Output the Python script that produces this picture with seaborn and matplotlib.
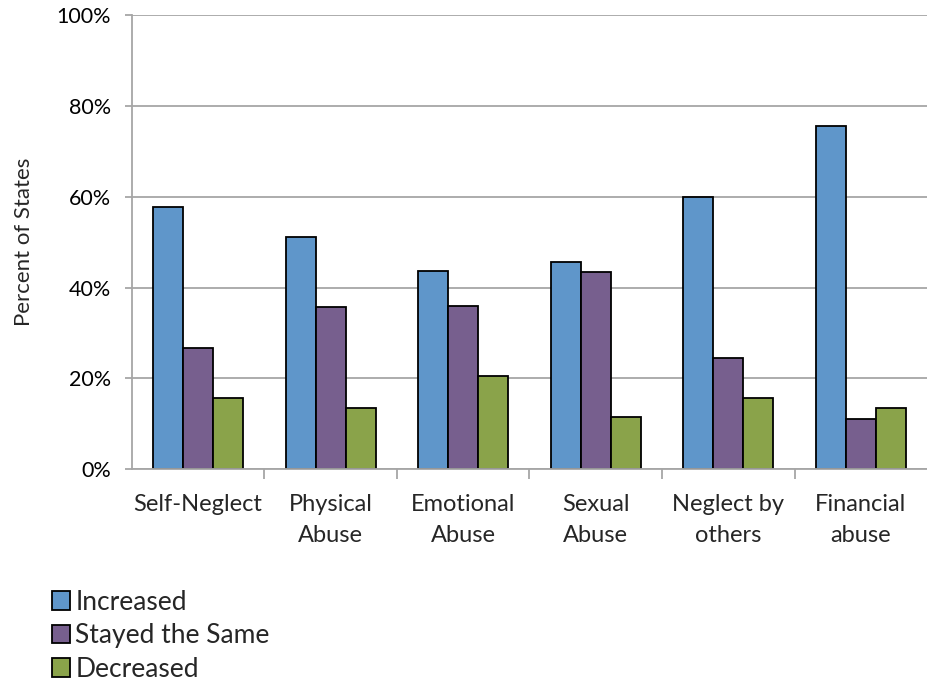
import pandas as pd
import numpy as np
import matplotlib.pyplot as plt
import seaborn as sns
from matplotlib.ticker import PercentFormatter, FixedLocator

categories = ["Self-Neglect", "Physical\nAbuse", "Emotional\nAbuse", "Sexual\nAbuse",
              "Neglect by\nothers", "Financial\nabuse"]
series = ["Increased", "Stayed the Same", "Decreased"]
increased = [57.7, 51.1, 43.6, 45.6, 60.0, 75.6]
stayed = [26.7, 35.7, 35.9, 43.4, 24.4, 11.1]
decreased = [15.6, 13.4, 20.5, 11.5, 15.6, 13.4]
colors = ["#5F96CA", "#775F8E", "#8AA34A"]

df = pd.DataFrame({
    "Category": categories * 3,
    "Change": [s for s in series for _ in categories],
    "Percent": increased + stayed + decreased,
})

sns.set_style("white")
plt.rcParams["font.family"] = ["Lato", "DejaVu Sans"]

fig = plt.figure(figsize=(9.28, 6.85), dpi=100)
ax = fig.add_axes([0.142, 0.315, 0.857, 0.663])

sns.barplot(data=df, x="Category", y="Percent", hue="Change", palette=colors,
            width=0.68, edgecolor="black", linewidth=1.3, saturation=1, ax=ax,
            legend=True)

ax.set_ylim(0, 100)
ax.set_xlim(-0.5, 5.5)
ax.set_yticks(np.arange(0, 101, 20))
ax.yaxis.set_major_formatter(PercentFormatter(decimals=0))
ax.yaxis.grid(True, color="#A6A6A6", linewidth=1.3)
ax.set_axisbelow(True)
for s in ["top", "right"]:
    ax.spines[s].set_visible(False)
for s in ["left", "bottom"]:
    ax.spines[s].set_color("#A6A6A6")
    ax.spines[s].set_linewidth(1.3)

ax.tick_params(axis="y", labelsize=15.5, length=5, color="#A6A6A6", width=1.3, left=True,
               pad=10, labelcolor="black")
ax.tick_params(axis="x", which="major", labelsize=17, length=0, pad=18)
for t in ax.get_xticklabels():
    t.set_linespacing(1.55)
ax.xaxis.set_minor_locator(FixedLocator(np.arange(0.5, 5, 1)))
ax.tick_params(axis="x", which="minor", length=7, color="#A6A6A6", width=1.3, bottom=True)

ax.set_xlabel("")
ax.set_ylabel("Percent of States", fontsize=16, labelpad=16)

handles, labels = ax.get_legend_handles_labels()
ax.get_legend().remove()
fig.legend(handles, labels, loc="lower left", bbox_to_anchor=(0.03, -0.03),
           frameon=False, fontsize=19, handlelength=0.7, handleheight=0.7,
           handletextpad=0.2, labelspacing=0.32)

fig.savefig("out.png", dpi=100)
